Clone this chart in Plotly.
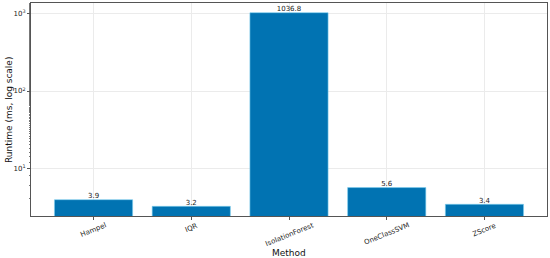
import numpy as np
import plotly.graph_objects as go

methods = ["Hampel", "IQR", "IsolationForest", "OneClassSVM", "ZScore"]
runtime_ms = [3.9, 3.2, 1036.8, 5.6, 3.4]
ytick_vals = [10, 100, 1000]
ytick_text = ["10<sup>1</sup>", "10<sup>2</sup>", "10<sup>3</sup>"]

FONT = "DejaVu Sans"
COLOR = "#0173b2"
x = list(range(len(methods)))

lo = np.log10(min(runtime_ms)); hi = np.log10(max(runtime_ms))
m = 0.05 * (hi - lo)

W, H = 550, 258
L, R, T, B = 31, 3, 3, 42
ph = H - T - B

fig = go.Figure()
fig.add_trace(go.Bar(x=x, y=runtime_ms, width=0.8, marker=dict(color=COLOR, line=dict(color="#7fd0f0", width=0.6)),
                     showlegend=False, hoverinfo="skip"))
fig.add_trace(go.Scatter(x=x, y=runtime_ms, mode="text", text=[f"{v:.1f}" for v in runtime_ms],
                         textposition="top center", textfont=dict(family=FONT, size=7, color="#222"),
                         cliponaxis=False, showlegend=False, hoverinfo="skip"))

for xi, name in zip(x, methods):
    fig.add_annotation(x=xi, y=-3 / ph, xref="x", yref="paper", text=name, showarrow=False,
                       textangle=-22, xanchor="center", yanchor="top",
                       font=dict(family=FONT, size=7, color="#222"))

fig.add_annotation(x=0.5, y=-(253 - (T + ph)) / ph, xref="paper", yref="paper", text="Method",
                   showarrow=False, xanchor="center", yanchor="middle",
                   font=dict(family=FONT, size=9, color="#111"))
fig.add_annotation(x=-(31 - 9) / (W - L - R), y=(ph + T - 110) / ph, xref="paper", yref="paper",
                   text="Runtime (ms, log scale)", textangle=-90,
                   showarrow=False, xanchor="center", yanchor="middle",
                   font=dict(family=FONT, size=9, color="#111"))

fig.update_layout(
    width=W, height=H, margin=dict(l=L, r=R, t=T, b=B, autoexpand=False),
    plot_bgcolor="white", paper_bgcolor="white",
    font=dict(family=FONT, size=7, color="#222"),
)
fig.update_xaxes(range=[-0.64, 4.64], tickvals=x, showticklabels=False, automargin=False,
                 showline=True, mirror=True, linecolor="#555", linewidth=1,
                 ticks="outside", ticklen=3, tickcolor="#555",
                 showgrid=True, gridcolor="#ebebeb", gridwidth=0.8, zeroline=False)
fig.update_yaxes(type="log", range=[lo - m, hi + m], tickvals=ytick_vals, ticktext=ytick_text, automargin=False,
                 showline=True, mirror=True, linecolor="#555", linewidth=1,
                 ticks="outside", ticklen=3, tickcolor="#555",
                 minor=dict(ticks="outside", ticklen=1.5, tickcolor="#777", showgrid=False),
                 showgrid=True, gridcolor="#ebebeb", gridwidth=0.8, zeroline=False)

fig.write_html("out.html", config={"displayModeBar": False},
               post_script="document.body.style.margin='0';document.body.style.overflow='hidden';")
